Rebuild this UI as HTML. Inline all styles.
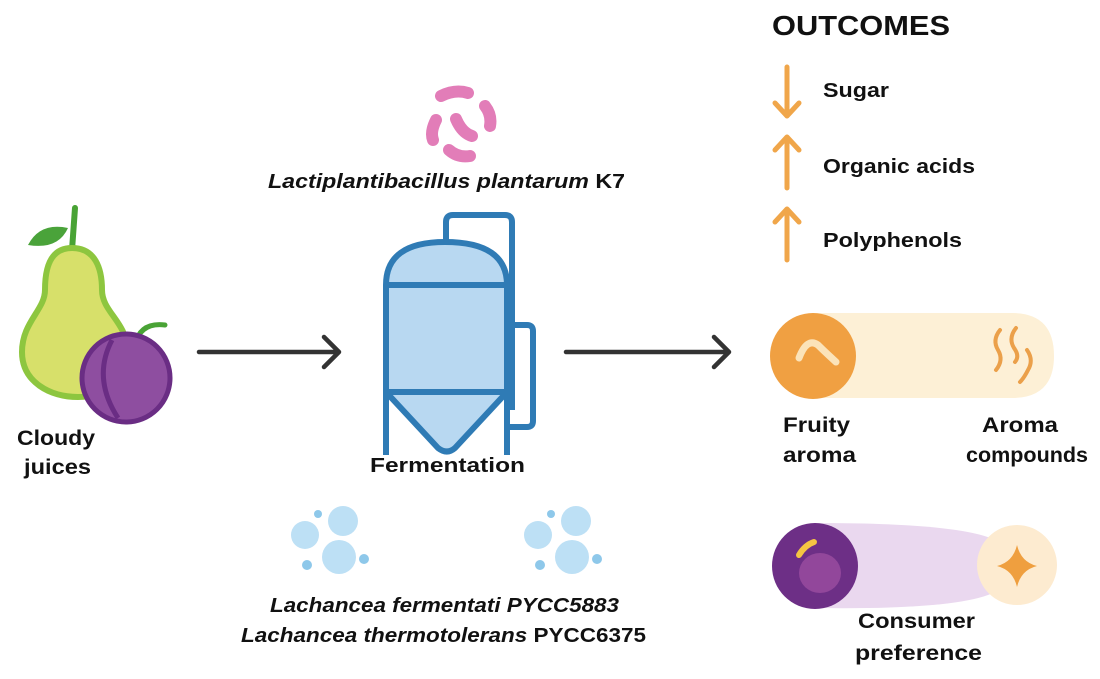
<!DOCTYPE html>
<html><head><meta charset="utf-8"><style>
html,body{margin:0;padding:0;background:#fff}
svg{display:block}
text{font-family:"Liberation Sans",sans-serif;font-weight:bold;fill:#111}
</style></head><body>
<svg width="1100" height="679" viewBox="0 0 1100 679" xmlns="http://www.w3.org/2000/svg">
<!-- Pear -->
<path d="M75 208 L72 250" stroke="#49a335" stroke-width="6" stroke-linecap="round"/>
<path d="M28 245 Q40 222 68 228 Q58 250 28 245Z" fill="#4aa33a"/>
<path d="M72 248 C50 248 45 268 45 290 C45 310 22 322 22 352 C22 382 50 397 78 397 C108 397 127 378 127 350 C127 322 102 312 102 290 C102 268 95 248 72 248Z" fill="#d7e06a" stroke="#8dc63f" stroke-width="6"/>
<!-- Plum -->
<path d="M135 345 Q140 322 165 325" stroke="#49a335" stroke-width="5" fill="none" stroke-linecap="round"/>
<ellipse cx="126" cy="378" rx="44" ry="44" fill="#8e4ea0" stroke="#6a2d84" stroke-width="5"/>
<path d="M112 340 Q92 378 118 418" stroke="#6a2d84" stroke-width="5" fill="none"/>
<text x="17" y="445" font-size="21" textLength="78" lengthAdjust="spacingAndGlyphs">Cloudy</text>
<text x="24" y="474" font-size="21" textLength="67" lengthAdjust="spacingAndGlyphs">juices</text>
<!-- Arrows -->
<g stroke="#333" stroke-width="4.5" fill="none" stroke-linecap="round" stroke-linejoin="round">
<path d="M199 352 H338 M324 337 L339 352 L324 367"/>
<path d="M566 352 H728 M714 337 L729 352 L714 367"/>
</g>
<!-- Tank -->
<g stroke="#2f7bb5" stroke-width="6" fill="none" stroke-linejoin="round">
<path d="M446 262 V222 Q446 215 453 215 H505 Q512 215 512 222 V410"/>
<path d="M507 325 H527 Q533 325 533 331 V421 Q533 427 527 427 H507"/>
<path d="M386 285 Q386 242 445 242 Q507 242 507 285 V392 L455 448 Q447 455 438 448 L386 392Z" fill="#b8d8f1"/>
<path d="M386 285 H507 M386 392 H507 M386 392 V455 M507 392 V455"/>
</g>
<text x="370" y="472" font-size="20" textLength="155" lengthAdjust="spacingAndGlyphs">Fermentation</text>
<!-- Bacteria -->
<g stroke="#e27db8" stroke-width="12" stroke-linecap="round" fill="none">
<path d="M441 96 Q455 89 468 93"/>
<path d="M485 106 Q492 115 490 126"/>
<path d="M436 120 Q430 132 433 140"/>
<path d="M456 119 Q462 133 472 136"/>
<path d="M449 150 Q458 158 470 156"/>
</g>
<text x="268" y="188" font-size="20" textLength="357" lengthAdjust="spacingAndGlyphs"><tspan font-style="italic">Lactiplantibacillus plantarum</tspan> K7</text>
<!-- Yeast -->
<g fill="#bde0f5">
<circle cx="305" cy="535" r="14"/><circle cx="343" cy="521" r="15"/><circle cx="339" cy="557" r="17"/>
<circle cx="318" cy="514" r="4" fill="#8ec8ea"/><circle cx="307" cy="565" r="5" fill="#8ec8ea"/><circle cx="364" cy="559" r="5" fill="#8ec8ea"/>
<circle cx="538" cy="535" r="14"/><circle cx="576" cy="521" r="15"/><circle cx="572" cy="557" r="17"/>
<circle cx="551" cy="514" r="4" fill="#8ec8ea"/><circle cx="540" cy="565" r="5" fill="#8ec8ea"/><circle cx="597" cy="559" r="5" fill="#8ec8ea"/>
</g>
<text x="270" y="612" font-size="20" font-style="italic" textLength="349" lengthAdjust="spacingAndGlyphs">Lachancea fermentati PYCC5883</text>
<text x="241" y="642" font-size="20" textLength="405" lengthAdjust="spacingAndGlyphs"><tspan font-style="italic">Lachancea thermotolerans</tspan> PYCC6375</text>
<!-- Outcomes -->
<text x="772" y="35" font-size="28" textLength="178" lengthAdjust="spacingAndGlyphs">OUTCOMES</text>
<g stroke="#f0a64a" stroke-width="5" fill="none" stroke-linecap="round" stroke-linejoin="round">
<path d="M787 67 V115 M775 103 L787 116 L799 103"/>
<path d="M787 188 V137 M775 150 L787 137 L799 150"/>
<path d="M787 260 V209 M775 222 L787 209 L799 222"/>
</g>
<text x="823" y="97" font-size="20" textLength="66" lengthAdjust="spacingAndGlyphs">Sugar</text>
<text x="823" y="173" font-size="20" textLength="152" lengthAdjust="spacingAndGlyphs">Organic acids</text>
<text x="823" y="247" font-size="20" textLength="139" lengthAdjust="spacingAndGlyphs">Polyphenols</text>
<!-- Pill 1 -->
<path d="M813 313 H1012 Q1054 313 1054 356 Q1054 398 1012 398 H813Z" fill="#fdf0d6"/>
<circle cx="813" cy="356" r="43" fill="#f0a042"/>
<path d="M799 358 Q807 337 818 345 Q824 351 836 362" stroke="#fbe3b9" stroke-width="7" fill="none" stroke-linecap="round"/>
<g stroke="#eba04a" stroke-width="4" fill="none" stroke-linecap="round">
<path d="M1000 330 Q992 340 998 350 Q1004 360 996 370"/>
<path d="M1016 328 Q1008 338 1014 348 Q1020 356 1015 362"/>
<path d="M1027 350 Q1034 360 1028 370 Q1024 378 1020 382"/>
</g>
<text x="783" y="432" font-size="21" textLength="67" lengthAdjust="spacingAndGlyphs">Fruity</text>
<text x="783" y="462" font-size="21" textLength="73" lengthAdjust="spacingAndGlyphs">aroma</text>
<text x="982" y="432" font-size="21" textLength="76" lengthAdjust="spacingAndGlyphs">Aroma</text>
<text x="966" y="462" font-size="21" textLength="122" lengthAdjust="spacingAndGlyphs">compounds</text>
<!-- Pill 2 -->
<path d="M815 523 Q960 523 995 540 L995 592 Q960 610 815 608Z" fill="#ead8ef"/>
<circle cx="815" cy="566" r="43" fill="#6d2f86"/>
<ellipse cx="820" cy="573" rx="21" ry="20" fill="#92479b"/>
<path d="M799 555 Q805 545 814 542" stroke="#f5c542" stroke-width="6" stroke-linecap="round" fill="none"/>
<circle cx="1017" cy="565" r="40" fill="#fdebd0"/>
<path d="M1017 545 Q1021 562 1037 566 Q1021 570 1017 587 Q1013 570 997 566 Q1013 562 1017 545Z" fill="#ef9f3f"/>
<text x="858" y="628" font-size="21" textLength="117" lengthAdjust="spacingAndGlyphs">Consumer</text>
<text x="855" y="660" font-size="21" textLength="127" lengthAdjust="spacingAndGlyphs">preference</text>
</svg>
</body></html>
